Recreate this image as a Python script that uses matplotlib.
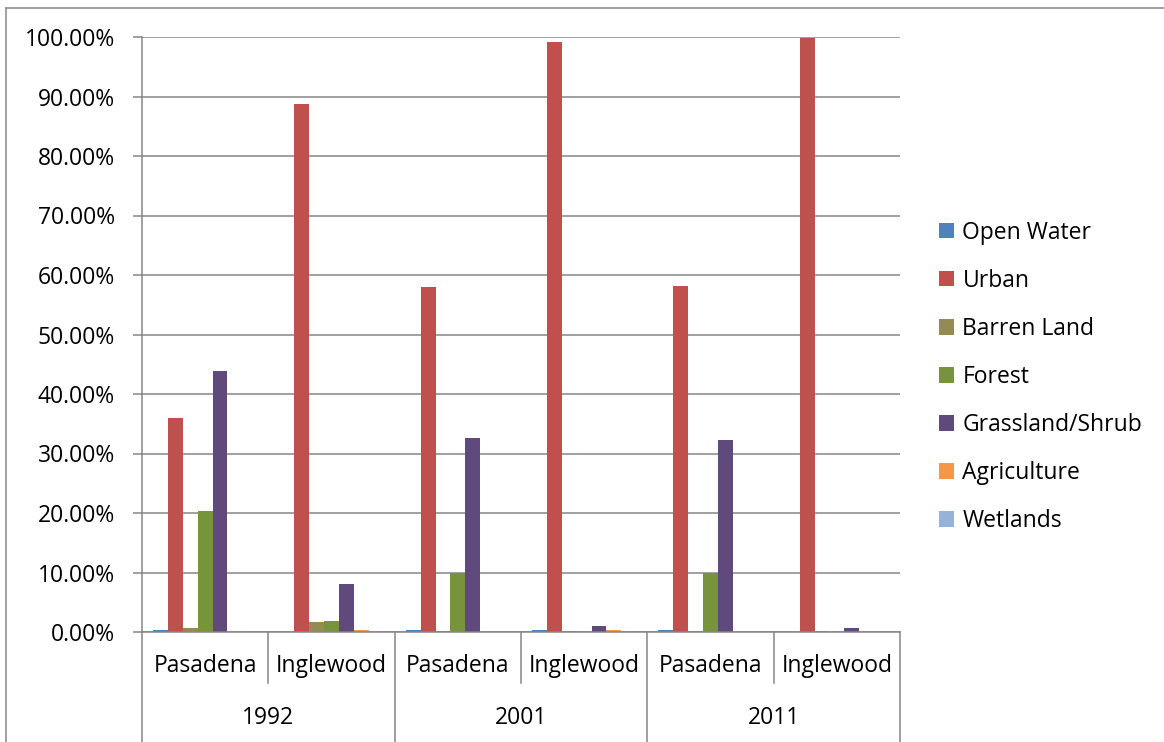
import numpy as np
import matplotlib
matplotlib.use("Agg")
import matplotlib.pyplot as plt
from matplotlib.lines import Line2D
from matplotlib.ticker import FuncFormatter

plt.rcParams['font.family'] = ['Open Sans', 'DejaVu Sans']

years = ["1992", "2001", "2011"]
cities = ["Pasadena", "Inglewood"]
land_types = ["Open Water", "Urban", "Barren Land", "Forest",
              "Grassland/Shrub", "Agriculture", "Wetlands"]
colors = ["#4F81BD", "#C0504D", "#948A54", "#77933C",
          "#604A7B", "#F79646", "#95B3D7"]

# share of area (%) per land type, groups ordered 1992 Pas, 1992 Ing, 2001 Pas, ...
open_water = [0.4, 0.0, 0.4, 0.4, 0.4, 0.0]
urban = [36.0, 88.8, 58.0, 99.2, 58.2, 99.8]
barren = [0.7, 1.7, 0.1, 0.1, 0.1, 0.1]
forest = [20.3, 1.9, 9.85, 0.0, 9.85, 0.0]
grassland = [43.9, 8.1, 32.6, 1.0, 32.3, 0.7]
agriculture = [0.2, 0.3, 0.05, 0.3, 0.05, 0.0]
wetlands = [0.0, 0.0, 0.0, 0.0, 0.0, 0.0]
series = [open_water, urban, barren, forest, grassland, agriculture, wetlands]

W, H = 1164, 742
FS = 16.5
fig = plt.figure(figsize=(W / 100, H / 100), dpi=100)
ax = fig.add_axes([142 / W, (H - 632) / H, (900 - 142) / W, 595 / H])

grey = "#868686"
n_groups = len(years) * len(cities)
x = np.arange(n_groups)
w = 1 / 8.5
for k, (vals, col, name) in enumerate(zip(series, colors, land_types)):
    ax.bar(x + (k - 3) * w, vals, width=w, color=col, label=name,
           linewidth=0, zorder=3)

ax.set_xlim(-0.5, n_groups - 0.5)
ax.set_ylim(0, 100)
ax.set_yticks(np.arange(0, 101, 10))
ax.yaxis.set_major_formatter(FuncFormatter(lambda v, p: f"{v:.2f}%"))
ax.grid(axis="y", color=grey, linewidth=1.1, zorder=0)
ax.tick_params(axis="y", direction="out", length=6.5, width=1.1, color=grey,
               pad=13, labelsize=FS)
ax.set_xticks([])
for side in ["top", "right"]:
    ax.spines[side].set_visible(False)
for side in ["left", "bottom"]:
    ax.spines[side].set_color(grey)
    ax.spines[side].set_linewidth(1.1)
    ax.spines[side].set_zorder(4)

# two-level category axis below the plot
tr = ax.get_xaxis_transform()
for g in range(n_groups):
    ax.text(g, -0.057, cities[g % 2], transform=tr, ha="center", va="center",
            fontsize=FS)
for i, yr in enumerate(years):
    ax.text(2 * i + 0.5, -0.1445, yr, transform=tr, ha="center", va="center",
            fontsize=FS)
for b in np.arange(-0.5, n_groups, 1.0):
    idx = int(b + 0.5)
    low = -0.186 if idx % 2 == 0 else -0.0857
    ax.add_line(Line2D([b, b], [0, low], transform=tr, color=grey,
                       linewidth=1.1, clip_on=False))

# outer chart border
fig.add_artist(Line2D([6 / W, 1], [(H - 8) / H] * 2, color=grey, linewidth=1.1))
fig.add_artist(Line2D([6 / W] * 2, [0, (H - 8) / H], color=grey, linewidth=1.1))

ax.legend(loc="center left", bbox_to_anchor=(928 / W, (H - 377) / H),
          bbox_transform=fig.transFigure, frameon=False, fontsize=FS,
          handlelength=0.65, handleheight=0.65, handletextpad=0.35,
          labelspacing=1.05, borderpad=0)

fig.savefig("out.png", dpi=100)
